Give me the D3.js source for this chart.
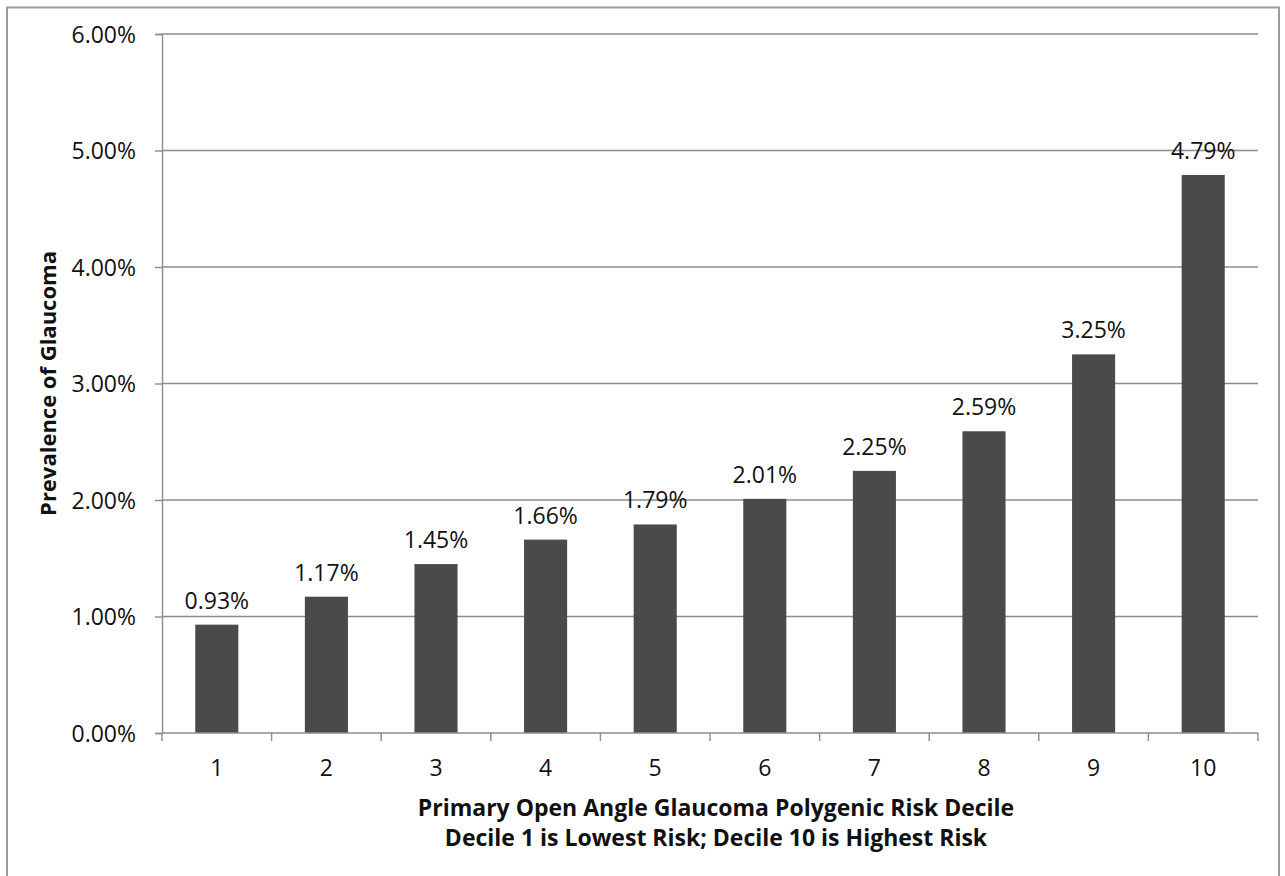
<!DOCTYPE html>
<html>
<head>
<meta charset="utf-8">
<script src="https://cdn.jsdelivr.net/npm/d3@7"></script>
<style>
  html, body { margin: 0; padding: 0; background: #fff; }
  svg { display: block; }
  text { font-family: "Open Sans", "Noto Sans", sans-serif; fill: #111; }
</style>
</head>
<body>
<svg id="chart" width="1285" height="876"></svg>
<script>
const categories = ["1", "2", "3", "4", "5", "6", "7", "8", "9", "10"];
const values = [0.0093, 0.0117, 0.0145, 0.0166, 0.0179, 0.0201, 0.0225, 0.0259, 0.0325, 0.0479];
const yTicks = [0, 0.01, 0.02, 0.03, 0.04, 0.05, 0.06];
const yTitle = "Prevalence of Glaucoma";
const xTitleLines = ["Primary Open Angle Glaucoma Polygenic Risk Decile", "Decile 1 is Lowest Risk; Decile 10 is Highest Risk"];

const svg = d3.select("#chart");
const plotL = 162, plotR = 1258, plotT = 34, plotB = 733;
const FONT = "'Open Sans', 'Noto Sans', sans-serif";

// outer border (no bottom edge)
svg.append("path")
  .attr("d", `M7,876 L7,7.5 L1279,7.5 L1279,876`)
  .attr("fill", "none").attr("stroke", "#9a9a9a").attr("stroke-width", 2);

const y = d3.scaleLinear().domain([0, 0.06]).range([plotB, plotT]);
const x = d3.scaleBand().domain(categories).range([plotL, plotR])
  .paddingInner(0.607).paddingOuter(0.3035);

const fmt = d3.format(".2%");

// gridlines
svg.append("g").selectAll("line").data(yTicks.filter(d => d > 0)).join("line")
  .attr("x1", plotL).attr("x2", plotR)
  .attr("y1", d => y(d)).attr("y2", d => y(d))
  .attr("stroke", "#8c8c8c").attr("stroke-width", 1.4);

// y axis
const yAxis = svg.append("g").attr("transform", `translate(${plotL},0)`)
  .call(d3.axisLeft(y).tickValues(yTicks).tickFormat(fmt).tickSize(7).tickPadding(19));
yAxis.attr("font-family", null).attr("font-size", null);
yAxis.select(".domain").attr("stroke", "#8c8c8c").attr("stroke-width", 1.4);
yAxis.selectAll(".tick line").attr("stroke", "#8c8c8c").attr("stroke-width", 1.4);
yAxis.selectAll(".tick text").attr("font-size", 23).attr("fill", "#111")
  .style("font-family", FONT).attr("dy", "0.36em");

// bars
svg.append("g").selectAll("rect").data(values).join("rect")
  .attr("x", (d, i) => x(categories[i]))
  .attr("width", x.bandwidth())
  .attr("y", d => y(d))
  .attr("height", d => y(0) - y(d))
  .attr("fill", "#4a4a4a");

// x axis baseline
svg.append("line").attr("x1", plotL).attr("x2", plotR).attr("y1", plotB).attr("y2", plotB)
  .attr("stroke", "#8c8c8c").attr("stroke-width", 1.4);
// x ticks at category boundaries
const bounds = d3.range(categories.length + 1).map(i => plotL + i * x.step());
svg.append("g").selectAll("line").data(bounds).join("line")
  .attr("x1", d => d).attr("x2", d => d).attr("y1", plotB).attr("y2", plotB + 8)
  .attr("stroke", "#8c8c8c").attr("stroke-width", 1.4);
// x labels
svg.append("g").selectAll("text").data(categories).join("text")
  .attr("x", d => x(d) + x.bandwidth() / 2).attr("y", 776)
  .attr("text-anchor", "middle").attr("font-size", 23).text(d => d);

// data labels
svg.append("g").selectAll("text").data(values).join("text")
  .attr("x", (d, i) => x(categories[i]) + x.bandwidth() / 2)
  .attr("y", d => y(d) - 16)
  .attr("text-anchor", "middle").attr("font-size", 23).text(d => fmt(d));

// axis titles
svg.append("g").selectAll("text").data(xTitleLines).join("text")
  .attr("x", 716).attr("y", (d, i) => 816 + i * 30)
  .attr("text-anchor", "middle").attr("font-size", 23).attr("font-weight", "bold").text(d => d);

svg.append("text")
  .attr("transform", `translate(56,${(plotT + plotB) / 2}) rotate(-90)`)
  .attr("text-anchor", "middle").attr("font-size", 22).attr("font-weight", "bold").text(yTitle);
</script>
</body>
</html>
